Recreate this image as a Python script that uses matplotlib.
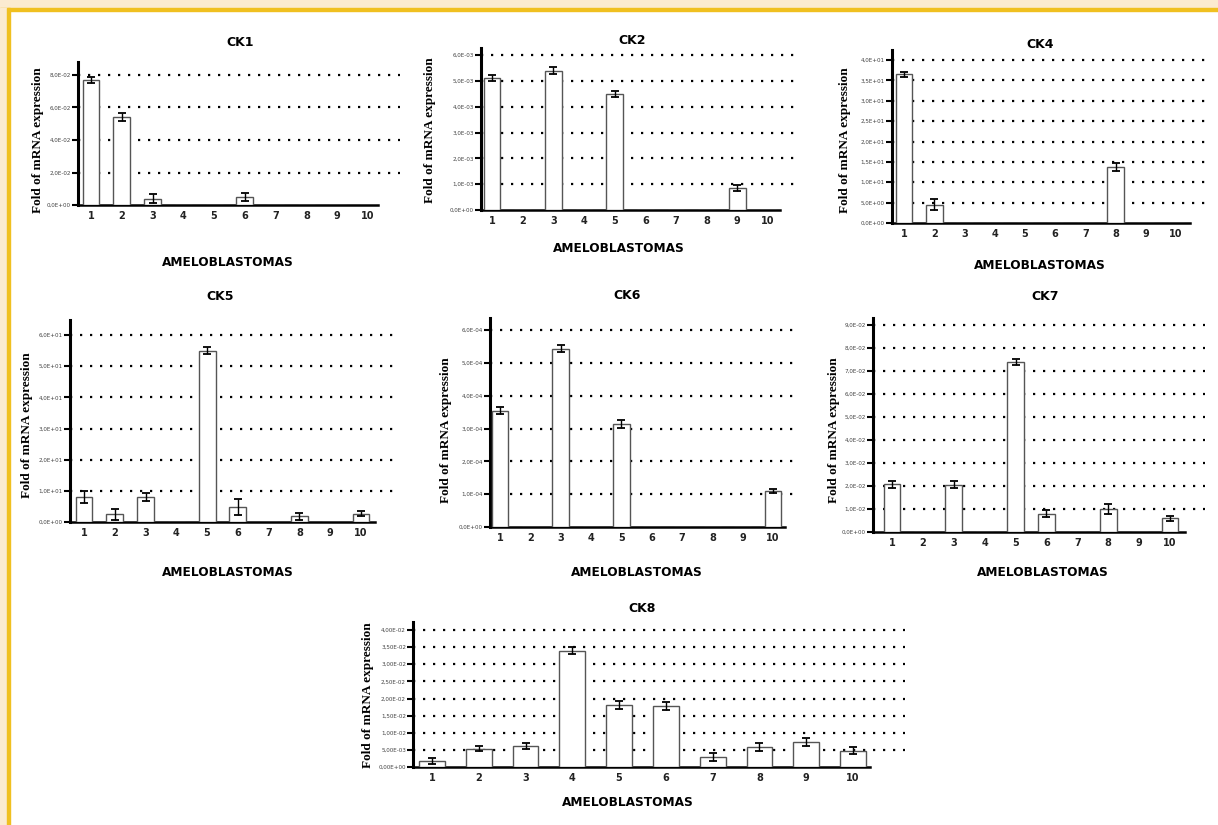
import numpy as np
import matplotlib
matplotlib.use("Agg")
import matplotlib.pyplot as plt
from matplotlib.patches import Rectangle

W, H = 1218, 825

samples = [str(i) for i in range(1, 11)]

ck1 = [0.077, 0.054, 0.004, 0, 0, 0.005, 0, 0, 0, 0]
ck1_err = [0.002, 0.0025, 0.0025, 0, 0, 0.0025, 0, 0, 0, 0]
ck1_ticks = [0, 0.02, 0.04, 0.06, 0.08]

ck2 = [5.1e-3, 0, 5.4e-3, 0, 4.5e-3, 0, 0, 0, 0.85e-3, 0]
ck2_err = [0.12e-3, 0, 0.12e-3, 0, 0.12e-3, 0, 0, 0, 0.12e-3, 0]
ck2_ticks = [0, 1e-3, 2e-3, 3e-3, 4e-3, 5e-3, 6e-3]

ck4 = [36.5, 4.5, 0, 0, 0, 0, 0, 13.8, 0, 0]
ck4_err = [0.6, 1.3, 0, 0, 0, 0, 0, 1.0, 0, 0]
ck4_ticks = [0, 5, 10, 15, 20, 25, 30, 35, 40]

ck5 = [8.0, 2.5, 8.0, 0, 55.0, 4.8, 0, 1.8, 0, 2.6]
ck5_err = [1.8, 1.8, 1.2, 0, 1.2, 2.5, 0, 1.0, 0, 0.8]
ck5_ticks = [0, 10, 20, 30, 40, 50, 60]

ck6 = [3.54e-4, 0, 5.43e-4, 0, 3.14e-4, 0, 0, 0, 0, 1.1e-4]
ck6_err = [0.1e-4, 0, 0.1e-4, 0, 0.12e-4, 0, 0, 0, 0, 0.05e-4]
ck6_ticks = [0, 1e-4, 2e-4, 3e-4, 4e-4, 5e-4, 6e-4]

ck7 = [2.08e-2, 0, 2.05e-2, 0, 7.4e-2, 0.8e-2, 0, 1.0e-2, 0, 0.6e-2]
ck7_err = [0.15e-2, 0, 0.15e-2, 0, 0.12e-2, 0.15e-2, 0, 0.2e-2, 0, 0.1e-2]
ck7_ticks = [0, 1e-2, 2e-2, 3e-2, 4e-2, 5e-2, 6e-2, 7e-2, 8e-2, 9e-2]

ck8 = [1.8e-3, 5.3e-3, 6.1e-3, 34e-3, 18e-3, 17.8e-3, 2.9e-3, 5.8e-3, 7.3e-3, 4.7e-3]
ck8_err = [0.8e-3, 0.7e-3, 0.8e-3, 0.9e-3, 1.2e-3, 1.2e-3, 1.2e-3, 1.2e-3, 1.2e-3, 1.0e-3]
ck8_ticks = [0, 5e-3, 10e-3, 15e-3, 20e-3, 25e-3, 30e-3, 35e-3, 40e-3]

# layout in pixels: axis x, zero y, top tick y, x of bar 1, x of bar 10, grid end, spine end, axis top
panels = [
    ("CK1", ck1, ck1_err, ck1_ticks, 1, (78, 205, 75, 91, 368, 400, 378, 62), (240, 43), (228, 263), (38, 140)),
    ("CK2", ck2, ck2_err, ck2_ticks, 1, (481, 210, 55, 492, 768, 800, 780, 48), (632, 40), (619, 249), (430, 130)),
    ("CK4", ck4, ck4_err, ck4_ticks, 1, (892, 223, 60, 904, 1176, 1205, 1190, 50), (1040, 45), (1040, 265), (845, 140)),
    ("CK5", ck5, ck5_err, ck5_ticks, 1, (70, 522, 335, 84, 361, 400, 375, 320), (220, 297), (228, 573), (27, 425)),
    ("CK6", ck6, ck6_err, ck6_ticks, 1, (490, 527, 330, 500, 773, 800, 785, 318), (627, 295), (637, 573), (446, 430)),
    ("CK7", ck7, ck7_err, ck7_ticks, 1, (873, 532, 325, 892, 1170, 1205, 1185, 318), (1045, 297), (1043, 573), (834, 430)),
    ("CK8", ck8, ck8_err, ck8_ticks, 2, (413, 767, 630, 432, 853, 905, 870, 622), (642, 609), (628, 802), (368, 695)),
]

fig = plt.figure(figsize=(W / 100, H / 100), dpi=100)
fig.patch.set_facecolor("white")

# page border
fig.patches.append(Rectangle((0, (H - 8) / H), 1, 8 / H, transform=fig.transFigure, color="#fbebd0", zorder=0))
fig.patches.append(Rectangle((0, (H - 11) / H), 1, 3 / H, transform=fig.transFigure, color="#f0c020", zorder=0))
fig.patches.append(Rectangle((0, 0), 7 / W, (H - 8) / H, transform=fig.transFigure, color="#fbebd0", zorder=0))
fig.patches.append(Rectangle((7 / W, 0), 2.5 / W, (H - 8) / H, transform=fig.transFigure, color="#f0c020", zorder=0))


def fx(px):
    return px / W


def fy(py):
    return 1 - py / H


for name, vals, errs, ticks, nd, lay, tpos, xlpos, ylpos in panels:
    xa, y0, ytp, p1, p10, gend, send, atop = lay
    step = (p10 - p1) / 9
    x_left = 1 - (p1 - xa) / step
    x_right = 1 + (gend - p1) / step
    x_spine = 1 + (send - p1) / step
    unit = (y0 - ytp) / ticks[-1]
    y_top = (y0 - atop) / unit

    ax = fig.add_axes([fx(xa), fy(y0), fx(gend) - fx(xa), fy(atop) - fy(y0)])
    ax.set_facecolor("none")
    x = np.arange(1, 11)
    bw = 0.55
    ax.bar(x, vals, width=bw, color="white", edgecolor="#555555", linewidth=1.0, zorder=3)
    xe = [xi for xi, v in zip(x, vals) if v > 0]
    ve = [v for v in vals if v > 0]
    ee = [e for v, e in zip(vals, errs) if v > 0]
    ax.errorbar(xe, ve, yerr=ee, fmt="none", ecolor="black", elinewidth=1.0, capsize=3, capthick=1.3, zorder=4)

    ax.set_xlim(x_left, x_right)
    ax.set_ylim(0, y_top)
    for t in ticks[1:]:
        ax.axhline(t, color="black", linestyle=(0, (1, 3.5)), linewidth=1.6, zorder=1)

    ax.set_xticks(x)
    ax.set_xticklabels(samples, fontsize=7, fontweight="bold", color="#222222")
    ax.set_yticks(ticks)
    ax.set_yticklabels([f"{t:.{nd}E}".replace(".", ",") for t in ticks], fontsize=4.1, color="#444444")
    ax.tick_params(axis="x", length=0, pad=4)
    ax.tick_params(axis="y", length=4, width=1.5, pad=1, direction="out")
    for s in ["top", "right"]:
        ax.spines[s].set_visible(False)
    ax.spines["left"].set_linewidth(2.2)
    ax.spines["bottom"].set_linewidth(1.8)
    ax.spines["bottom"].set_bounds(x_left, x_spine)

    fig.text(fx(tpos[0]), fy(tpos[1]), name, ha="center", va="center", fontsize=9, fontweight="bold")
    fig.text(fx(xlpos[0]), fy(xlpos[1]), "AMELOBLASTOMAS", ha="center", va="center", fontsize=8.7, fontweight="bold")
    fig.text(fx(ylpos[0]), fy(ylpos[1]), "Fold of mRNA expression", ha="center", va="center", rotation=90,
             fontsize=9.5, fontweight="bold", family="Liberation Serif")

fig.savefig("out.png", dpi=100)
